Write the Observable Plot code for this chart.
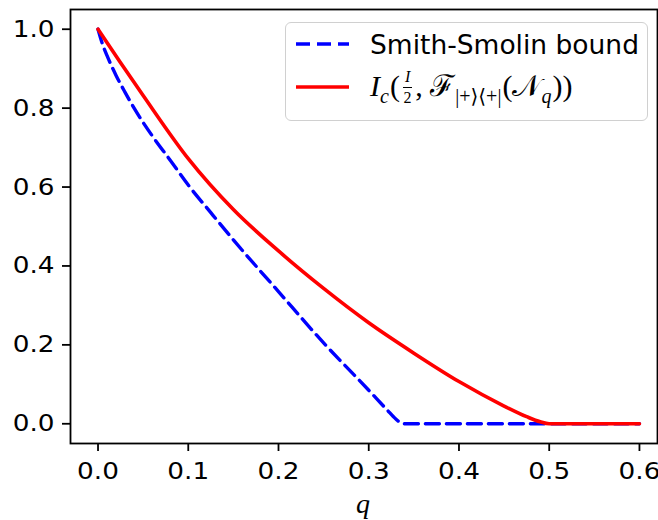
<!DOCTYPE html>
<html>
<head>
<meta charset="utf-8">
<script src="https://cdn.jsdelivr.net/npm/d3@7"></script>
<script src="https://cdn.jsdelivr.net/npm/@observablehq/plot@0.6"></script>
<style>
  html, body { margin: 0; padding: 0; background: #fff; overflow: hidden; }
  #wrap { position: relative; width: 658px; height: 520px; }
  #legend {
    position: absolute; left: 285px; top: 22px; width: 363px; height: 99px;
    box-sizing: border-box; border: 1.6px solid #d0d0d0; border-radius: 6px;
    background: rgba(255,255,255,0.8);
    font-family: "DejaVu Sans", sans-serif; font-size: 26.5px; color: #000;
  }
  .row { position: absolute; left: 0; height: 40px; display: flex; align-items: center; white-space: nowrap; }
  .row svg { margin-left: 10px; margin-right: 21px; flex: none; }
  .math { font-family: "Liberation Serif", "DejaVu Serif", serif; font-size: 30px; white-space: nowrap; }
  .math i { font-style: italic; }
  .math sub { font-size: 20px; vertical-align: -7px; line-height: 0; margin-right: 1px; }
  .frac { display: inline-flex; flex-direction: column; align-items: center; vertical-align: middle; font-size: 16px; margin: 0 3px; position: relative; top: -3px; }
  .frac .num { border-bottom: 1.2px solid #000; padding: 0 2px 1px; line-height: 19px; height: 19px; }
  .frac .den { line-height: 19px; height: 19px; }
  #xlabel { position: absolute; top: 488px; text-align: center; font-family: "Liberation Serif", serif; font-style: italic; font-size: 28px; }
</style>
</head>
<body>
<div id="wrap"></div>
<script>
// Smith-Smolin bound (blue dashed)
const qBlue = [0, 0.005, 0.01, 0.02, 0.03, 0.04, 0.06, 0.08, 0.1, 0.125, 0.15, 0.2, 0.25, 0.3, 0.32, 0.33, 0.335, 0.34, 0.4, 0.5, 0.6];
const vBlue = [1.0, 0.962, 0.933, 0.883, 0.84, 0.8, 0.73, 0.668, 0.605, 0.535, 0.466, 0.335, 0.205, 0.085, 0.036, 0.012, 0.003, 0.0, 0.0, 0.0, 0.0];
// I_c curve (red solid)
const qRed = [0, 0.025, 0.05, 0.1, 0.15, 0.2, 0.25, 0.3, 0.35, 0.4, 0.45, 0.475, 0.49, 0.5, 0.55, 0.6];
const vRed = [1.0, 0.915, 0.832, 0.672, 0.543, 0.438, 0.343, 0.256, 0.179, 0.107, 0.045, 0.018, 0.005, 0.0, 0.0, 0.0];
const xTicks = [0, 0.1, 0.2, 0.3, 0.4, 0.5, 0.6];
const yTicks = [0, 0.2, 0.4, 0.6, 0.8, 1.0];

const blue = qBlue.map((q, i) => ({q, v: vBlue[i]}));
const red = qRed.map((q, i) => ({q, v: vRed[i]}));

const chart = Plot.plot({
  width: 658, height: 520,
  marginLeft: 70, marginRight: 1, marginTop: 9, marginBottom: 77,
  style: { fontFamily: "DejaVu Sans, sans-serif", fontSize: "23.5px", color: "#000", background: "#fff" },
  x: { domain: [-0.0305, 0.62], label: null },
  y: { domain: [-0.05, 1.05], label: null },
  marks: [
    Plot.line(blue, { x: "q", y: "v", stroke: "blue", strokeWidth: 3.4, strokeDasharray: "14,7", curve: "monotone-x" }),
    Plot.line(red, { x: "q", y: "v", stroke: "red", strokeWidth: 3.6, curve: "monotone-x" }),
    Plot.frame({ stroke: "#000", strokeWidth: 1.8 }),
    Plot.axisX({ ticks: xTicks, tickFormat: d3.format(".1f"), tickSize: 8, tickPadding: 11, strokeWidth: 1.8, label: null, fontSize: 23.5 }),
    Plot.axisY({ ticks: yTicks, tickFormat: d3.format(".1f"), tickSize: 8, tickPadding: 8, strokeWidth: 1.8, label: null, fontSize: 23.5 })
  ]
});
const wrap = document.getElementById("wrap");
wrap.appendChild(chart);

// widen tick label glyphs horizontally to match the reference rendering
d3.select(chart).selectAll('g[aria-label$="tick label"] text').each(function() {
  const t = this.getAttribute("transform");
  if (t && t.includes("translate")) {
    this.setAttribute("transform", t + " scale(1.12,1)");
  } else {
    const x = +(this.getAttribute("x") || 0), y = +(this.getAttribute("y") || 0);
    this.setAttribute("x", 0); this.setAttribute("y", 0);
    this.setAttribute("transform", (t ? t + " " : "") + `translate(${x},${y}) scale(1.12,1)`);
  }
});

const legend = document.createElement("div");
legend.id = "legend";
legend.innerHTML = `
  <div class="row" style="top:1px">
    <svg width="53" height="10"><line x1="0" y1="5" x2="53" y2="5" stroke="blue" stroke-width="3.4" stroke-dasharray="14,7"/></svg>
    <span>Smith-Smolin bound</span>
  </div>
  <div class="row" style="top:44px">
    <svg width="53" height="10"><line x1="0" y1="5" x2="53" y2="5" stroke="red" stroke-width="3.6"/></svg>
    <span class="math"><i>I</i><sub><i>c</i></sub>(<span class="frac"><span class="num"><i>I</i></span><span class="den">2</span></span>, <span>ℱ</span><sub>|+⟩⟨+|</sub>(<span>𝒩</span><sub><i>q</i></sub>))</span>
  </div>`;
wrap.appendChild(legend);

const xl = document.createElement("div");
xl.id = "xlabel";
xl.style.left = "0px";
xl.style.width = (70 + 656) + "px";
xl.textContent = "q";
wrap.appendChild(xl);
</script>
</body>
</html>
